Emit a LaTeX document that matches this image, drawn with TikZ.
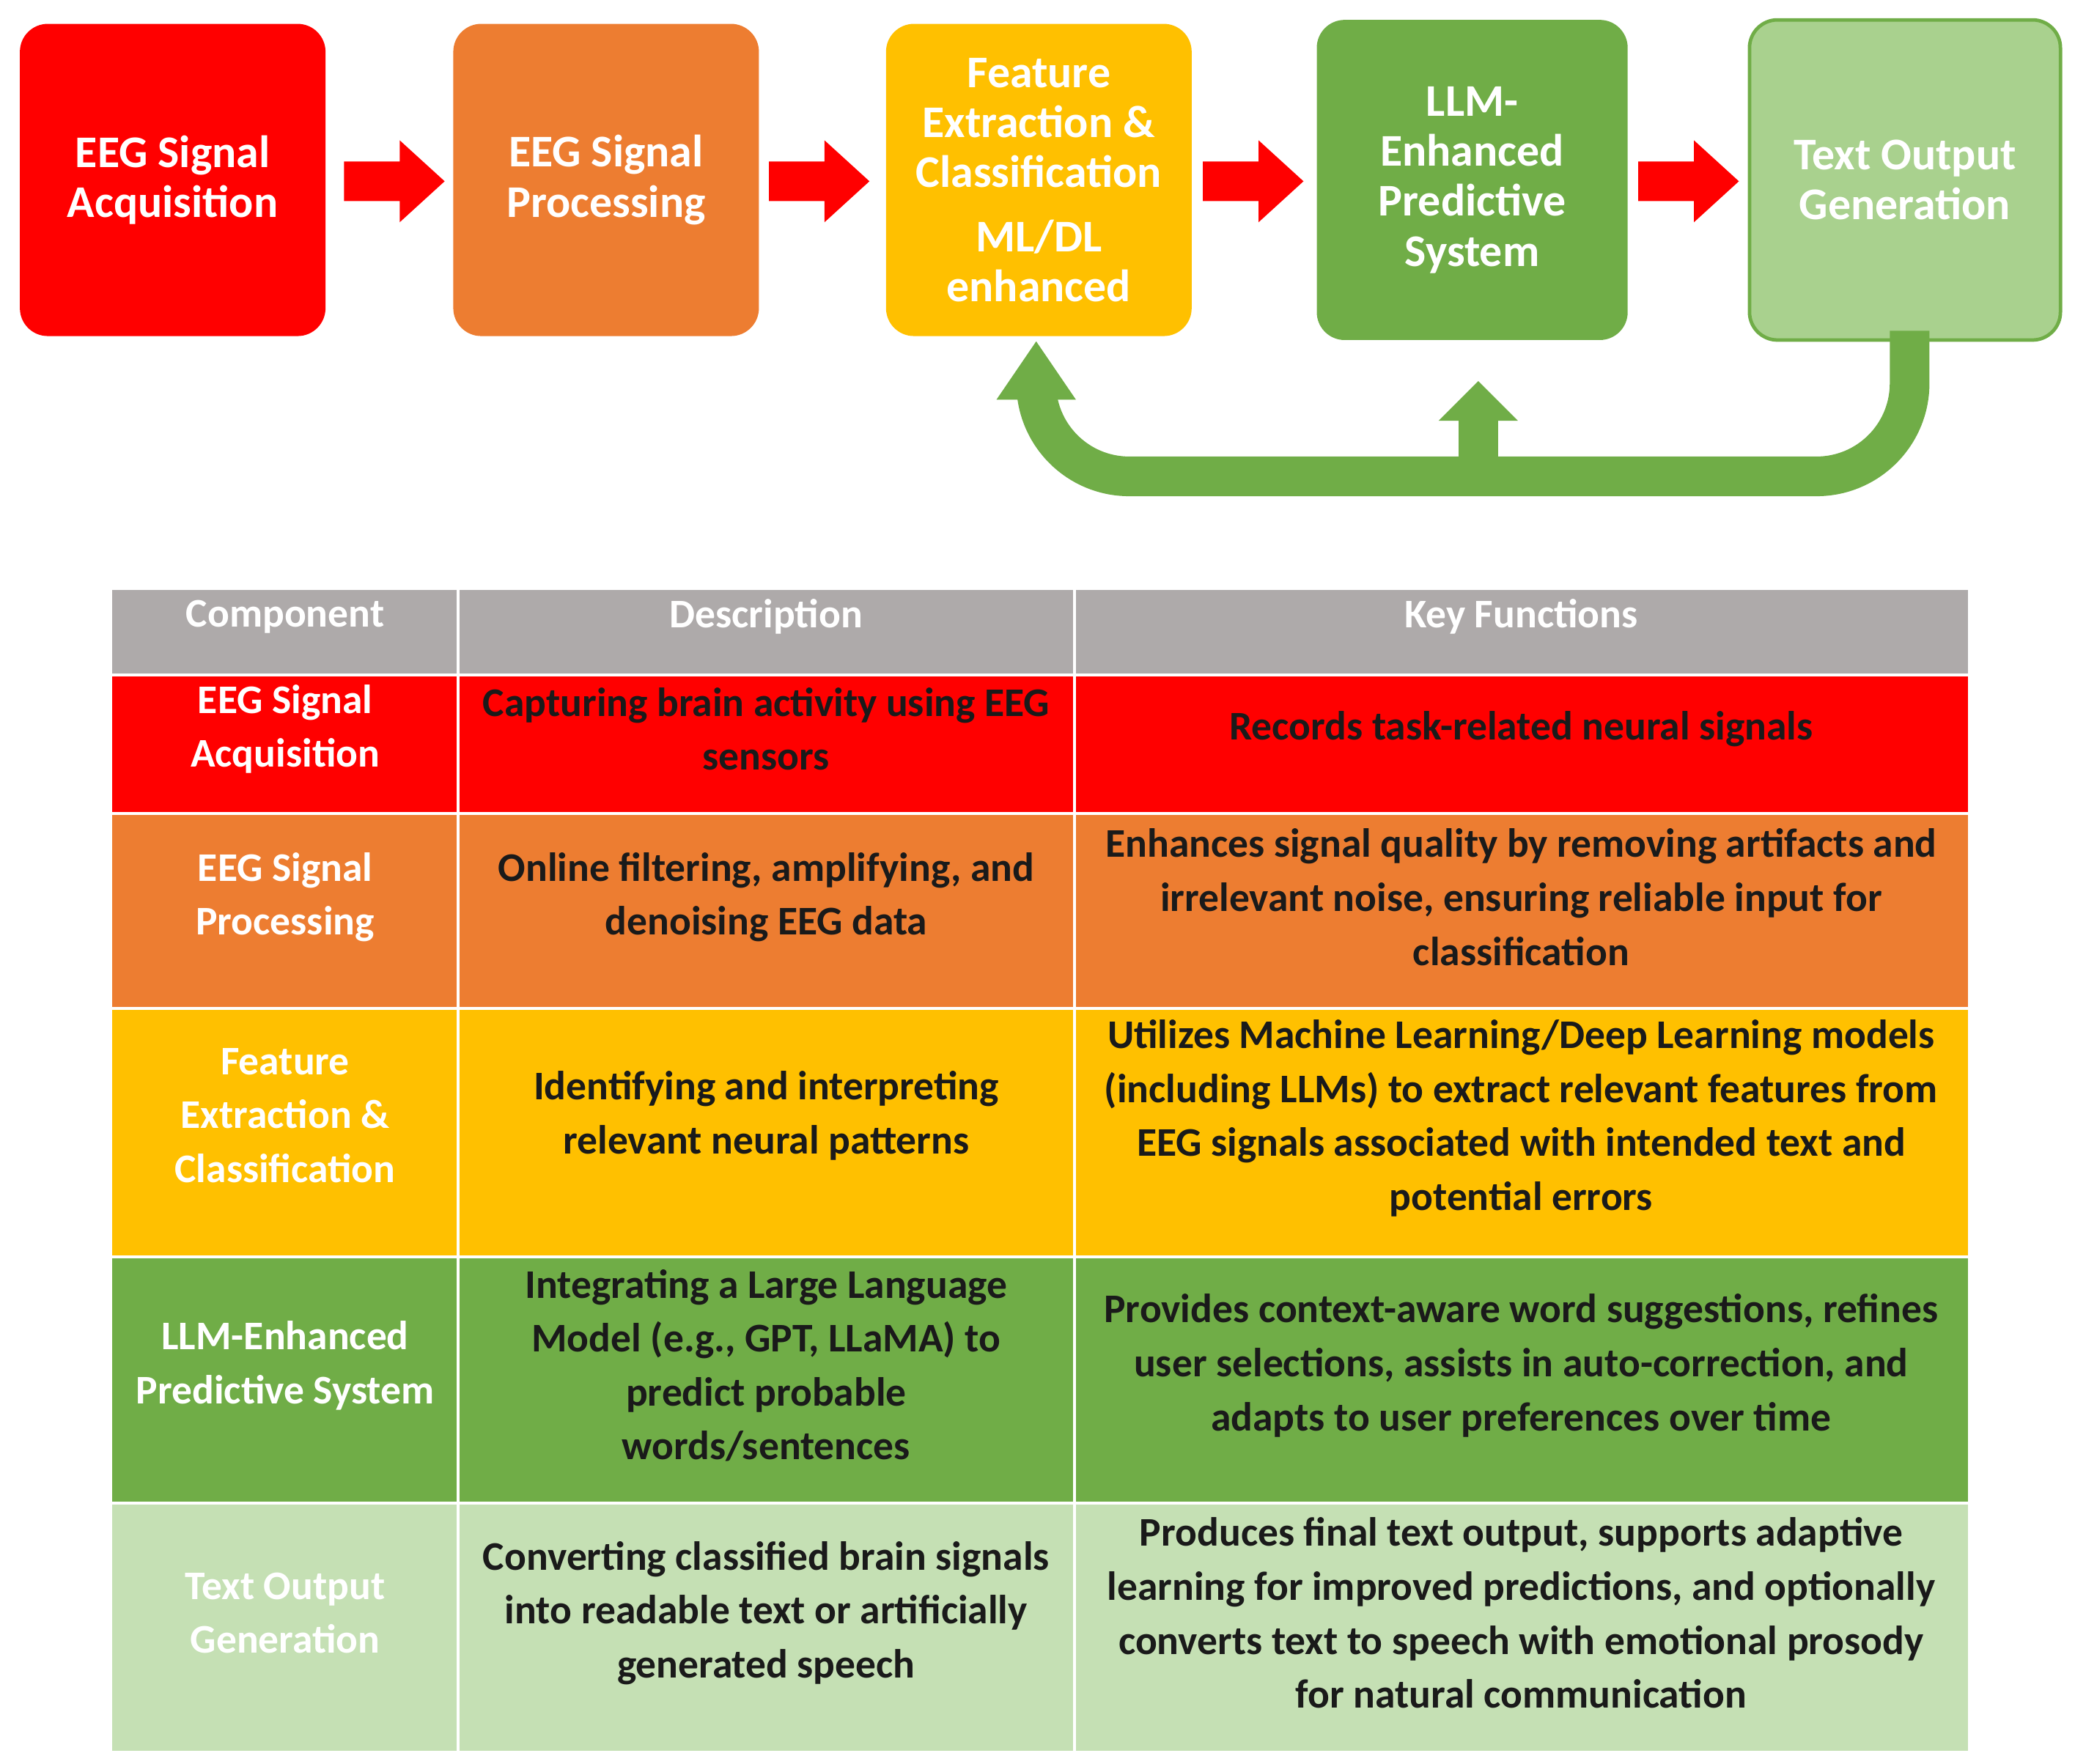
\documentclass[tikz,border=0pt]{standalone}
\usepackage{fontspec}
\setmainfont{Carlito}
\begin{document}
\begin{tikzpicture}[x=0.02cm,y=-0.02cm,
 box/.style={rounded corners=12pt,minimum width=4.62cm,minimum height=4.72cm,align=center,text=white,font=\bfseries\fontsize{19.5}{21.5}\selectfont,inner sep=0pt},
 rarr/.style={fill=red,draw=none},
 cell/.style={align=center,inner sep=0pt,font=\bfseries\fontsize{17.5}{23.2}\selectfont}]
\useasboundingbox (0,0) rectangle (1568,1333);
\definecolor{cr}{HTML}{FF0000}\definecolor{co}{HTML}{ED7D31}\definecolor{cy}{HTML}{FFC000}
\definecolor{cg}{HTML}{70AD47}\definecolor{cl}{HTML}{A9D18E}\definecolor{cp}{HTML}{C5E0B4}\definecolor{ch}{HTML}{AEAAAA}
\definecolor{tx}{HTML}{1A1A1A}
\node[box,fill=cr] (b1) at (130.5,136) {EEG Signal\\Acquisition};
\node[box,fill=co] (b2) at (458,136) {EEG Signal\\Processing};
\node[box,fill=cy] (b3) at (785,136) {Feature\\Extraction \&\\Classification\\[6pt]ML/DL\\enhanced};
\node[box,fill=cg,minimum width=4.7cm,minimum height=4.84cm] (b4) at (1112.5,136) {LLM-\\Enhanced\\Predictive\\System};
\node[box,fill=cl,draw=cg,line width=1.5pt,minimum width=4.7cm,minimum height=4.84cm] (b5) at (1439.5,136) {Text Output\\Generation};
\foreach \a in {260,581,909,1238}{
 \fill[rarr] (\a,122) -- (\a+42,122) -- (\a+42,106) -- (\a+76,137) -- (\a+42,168) -- (\a+42,152) -- (\a,152) -- cycle;}
\coordinate (f1) at (1443,360); \coordinate (f2) at (783,360); \coordinate (f3) at (1117,360);
\draw[cg,line width=0.6cm,rounded corners=40] (1443,250) -- (f1) -- (f2) -- (783,300);
\draw[cg,line width=0.6cm] (f3) -- (1117,316);
\fill[cg] (753,302) -- (813,302) -- (783,258) -- cycle;
\fill[cg] (1087,318) -- (1147,318) -- (1117,288) -- cycle;
% table
\fill[ch] (85,446) rectangle (1487,510);
\fill[cr] (85,510) rectangle (1487,615);
\fill[co] (85,615) rectangle (1487,762);
\fill[cy] (85,762) rectangle (1487,950);
\fill[cg] (85,950) rectangle (1487,1136);
\fill[cp] (85,1136) rectangle (1487,1323);
\foreach \y in {510,615,762,950,1136}{\draw[white,line width=1.2pt] (85,\y) -- (1487,\y);}
\foreach \x in {346,812}{\draw[white,line width=1.2pt] (\x,446) -- (\x,1323);}
\node[cell,text=white] (h1) at (215.5,466) {Component};
\node[cell,text=white] (h2) at (579,466) {Description};
\node[cell,text=white] (h3) at (1149.5,466) {Key Functions};
\node[cell,text=white] (c11) at (215.5,551) {EEG Signal\\Acquisition};
\node[cell,text=tx] (c12) at (579,551) {Capturing brain activity using EEG\\sensors};
\node[cell,text=tx] (c13) at (1149.5,551) {Records task-related neural signals};
\node[cell,text=white] (c21) at (215.5,678) {EEG Signal\\Processing};
\node[cell,text=tx] (c22) at (579,678) {Online filtering, amplifying, and\\denoising EEG data};
\node[cell,text=tx] (c23) at (1149.5,678) {Enhances signal quality by removing artifacts and\\irrelevant noise, ensuring reliable input for\\classification};
\node[cell,text=white] (c31) at (215.5,843) {Feature\\Extraction \&\\Classification};
\node[cell,text=tx] (c32) at (579,843) {Identifying and interpreting\\relevant neural patterns};
\node[cell,text=tx] (c33) at (1149.5,845) {Utilizes Machine Learning/Deep Learning models\\(including LLMs) to extract relevant features from\\EEG signals associated with intended text and\\potential errors};
\node[cell,text=white] (c41) at (215.5,1032) {LLM-Enhanced\\Predictive System};
\node[cell,text=tx] (c42) at (579,1032) {Integrating a Large Language\\Model (e.g., GPT, LLaMA) to\\predict probable\\words/sentences};
\node[cell,text=tx] (c43) at (1149.5,1032) {Provides context-aware word suggestions, refines\\user selections, assists in auto-correction, and\\adapts to user preferences over time};
\node[cell,text=white] (c51) at (215.5,1219) {Text Output\\Generation};
\node[cell,text=tx] (c52) at (579,1219) {Converting classified brain signals\\into readable text or artificially\\generated speech};
\node[cell,text=tx] (c53) at (1149.5,1219) {Produces final text output, supports adaptive\\learning for improved predictions, and optionally\\converts text to speech with emotional prosody\\for natural communication};
\end{tikzpicture}
\end{document}
